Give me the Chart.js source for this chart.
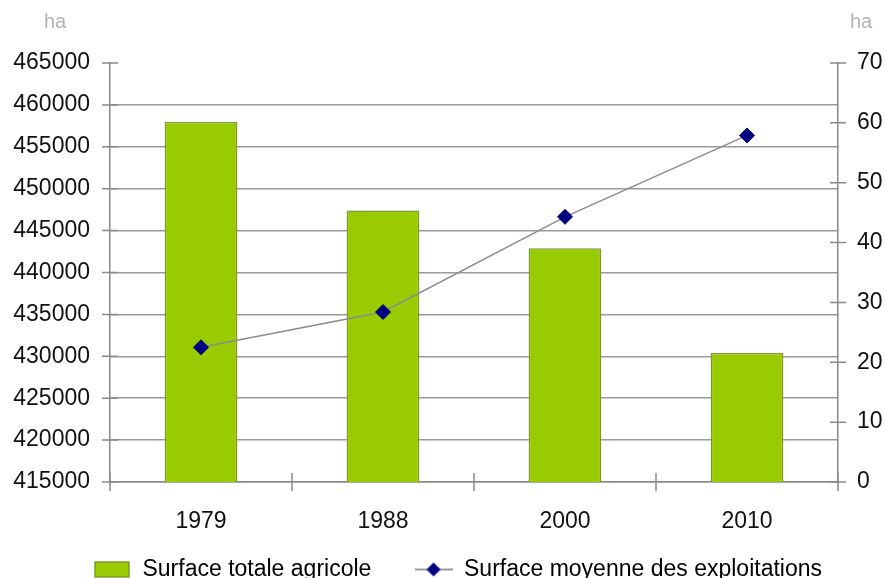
<!DOCTYPE html>
<html>
<head>
<meta charset="utf-8">
<script src="https://cdn.jsdelivr.net/npm/chart.js@4.4.1/dist/chart.umd.min.js"></script>
<style>
  html, body { margin: 0; padding: 0; background: #fff; overflow: hidden; }
  #wrap { position: relative; width: 885px; height: 591px; }
</style>
</head>
<body>
<div id="wrap"><canvas id="surfaces"></canvas></div>
<script>
// values
const years = ['1979', '1988', '2000', '2010'];
const surfaceTotale = [458000, 447400, 442900, 430400];
const surfaceMoyenne = [22.5, 28.4, 44.3, 57.9];
const leftTicks = [415000, 465000, 5000];   // min, max, step
const rightTicks = [0, 70, 10];
const labelBar = 'Surface totale agricole';
const labelLine = 'Surface moyenne des exploitations';
const unitLeft = 'ha';
const unitRight = 'ha';

const green = '#99cc00';
const navy = '#000080';
const gridGray = '#9a9a9a';
const axisGray = '#8a8a8a';
const fontFam = '"Liberation Sans", Arial, sans-serif';

// little legend symbols
function barSymbol(){
    const c = document.createElement('canvas');
    c.width = 36; c.height = 17;
    const g = c.getContext('2d');
    g.fillStyle = green;
    g.fillRect(1, 1, 34, 15);
    g.strokeStyle = '#7f9a30';
    g.lineWidth = 1.5;
    g.strokeRect(1, 1, 34, 15);
    return c;
}
function lineSymbol(){
    const c = document.createElement('canvas');
    c.width = 38; c.height = 18;
    const g = c.getContext('2d');
    g.strokeStyle = '#7a7a7a';
    g.lineWidth = 1.5;
    g.beginPath(); g.moveTo(0, 9); g.lineTo(38, 9); g.stroke();
    g.fillStyle = navy;
    g.beginPath(); g.moveTo(19, 2); g.lineTo(26, 9); g.lineTo(19, 16); g.lineTo(12, 9); g.closePath(); g.fill();
    return c;
}
const symBar = barSymbol();
const symLine = lineSymbol();

// crossing tick marks + unit labels at the top
const extras = {
    id: 'extras',
    afterDatasetsDraw(chart){
        const ctx = chart.ctx;
        const yl = chart.scales.y;
        const yr = chart.scales.y2;
        const x = chart.scales.x;
        ctx.save();
        ctx.strokeStyle = axisGray;
        ctx.lineWidth = 1.5;
        ctx.beginPath();
        yl.ticks.forEach((t, i) => {
            const py = yl.getPixelForTick(i);
            ctx.moveTo(yl.right - 8, py); ctx.lineTo(yl.right + 8, py);
        });
        yr.ticks.forEach((t, i) => {
            const py = yr.getPixelForTick(i);
            ctx.moveTo(yr.left - 8, py); ctx.lineTo(yr.left + 8, py);
        });
        const step = (x.right - x.left) / years.length;
        for (let i = 0; i <= years.length; i++) {
            const px = x.left + i * step;
            ctx.moveTo(px, x.top - 9); ctx.lineTo(px, x.top + 9);
        }
        ctx.stroke();

        ctx.fillStyle = '#b4b4b4';
        ctx.font = '20px ' + fontFam;
        ctx.textAlign = 'center';
        ctx.textBaseline = 'middle';
        ctx.fillText(unitLeft, 55, 22);
        ctx.fillText(unitRight, 861, 22);
        ctx.restore();
    }
};

Chart.defaults.font.family = fontFam;
Chart.defaults.font.size = 23;
Chart.defaults.color = '#111';

new Chart(document.getElementById('surfaces'), {
    data: {
        labels: years,
        datasets: [{
            type: 'bar',
            label: labelBar,
            data: surfaceTotale,
            yAxisID: 'y',
            backgroundColor: green,
            borderColor: '#7f9a30',
            borderWidth: 1.5,
            borderSkipped: 'bottom',
            categoryPercentage: 1,
            barPercentage: 0.4,
            order: 2
        }, {
            type: 'line',
            label: labelLine,
            data: surfaceMoyenne,
            yAxisID: 'y2',
            borderColor: '#8c8c8c',
            borderWidth: 1.5,
            pointStyle: 'rectRot',
            pointRadius: 7.5,
            pointBackgroundColor: navy,
            pointBorderColor: navy,
            pointBorderWidth: 1,
            tension: 0,
            order: 1
        }]
    },
    options: {
        responsive: true,
        maintainAspectRatio: false,
        animation: false,
        layout: { padding: { top: 63, left: 0, right: -30, bottom: 0 } },
        scales: {
            x: {
                offset: true,
                grid: { display: false, drawTicks: false },
                border: { display: true, color: axisGray, width: 1.5 },
                ticks: { padding: 26, color: '#111' },
                afterFit(s){ s.height = 52; }
            },
            y: {
                position: 'left',
                min: leftTicks[0],
                max: leftTicks[1],
                grid: {
                    drawTicks: false,
                    lineWidth: 1.5,
                    color: (c) => (c.tick && c.tick.value === leftTicks[1]) ? 'rgba(0,0,0,0)' : gridGray
                },
                border: { display: true, color: axisGray, width: 1.5 },
                ticks: { stepSize: leftTicks[2], padding: 20, color: '#111', callback: (v) => String(v) },
                afterFit(s){ s.width = 110; }
            },
            y2: {
                position: 'right',
                min: rightTicks[0],
                max: rightTicks[1],
                grid: { drawOnChartArea: false, drawTicks: false },
                border: { display: true, color: axisGray, width: 1.5 },
                ticks: { stepSize: rightTicks[2], padding: 19, color: '#111', callback: (v) => String(v) },
                afterFit(s){ s.width = 77; }
            }
        },
        plugins: {
            tooltip: { enabled: false },
            legend: {
                position: 'bottom',
                labels: {
                    usePointStyle: true,
                    pointStyleWidth: 38,
                    padding: 24,
                    color: '#111',
                    generateLabels(){
                        return [
                            { text: labelBar + '\u00a0\u00a0\u00a0', pointStyle: symBar, datasetIndex: 0, fillStyle: green, strokeStyle: green, lineWidth: 0 },
                            { text: labelLine, pointStyle: symLine, datasetIndex: 1, fillStyle: navy, strokeStyle: navy, lineWidth: 0 }
                        ];
                    }
                }
            }
        }
    },
    plugins: [extras]
});
</script>
</body>
</html>
